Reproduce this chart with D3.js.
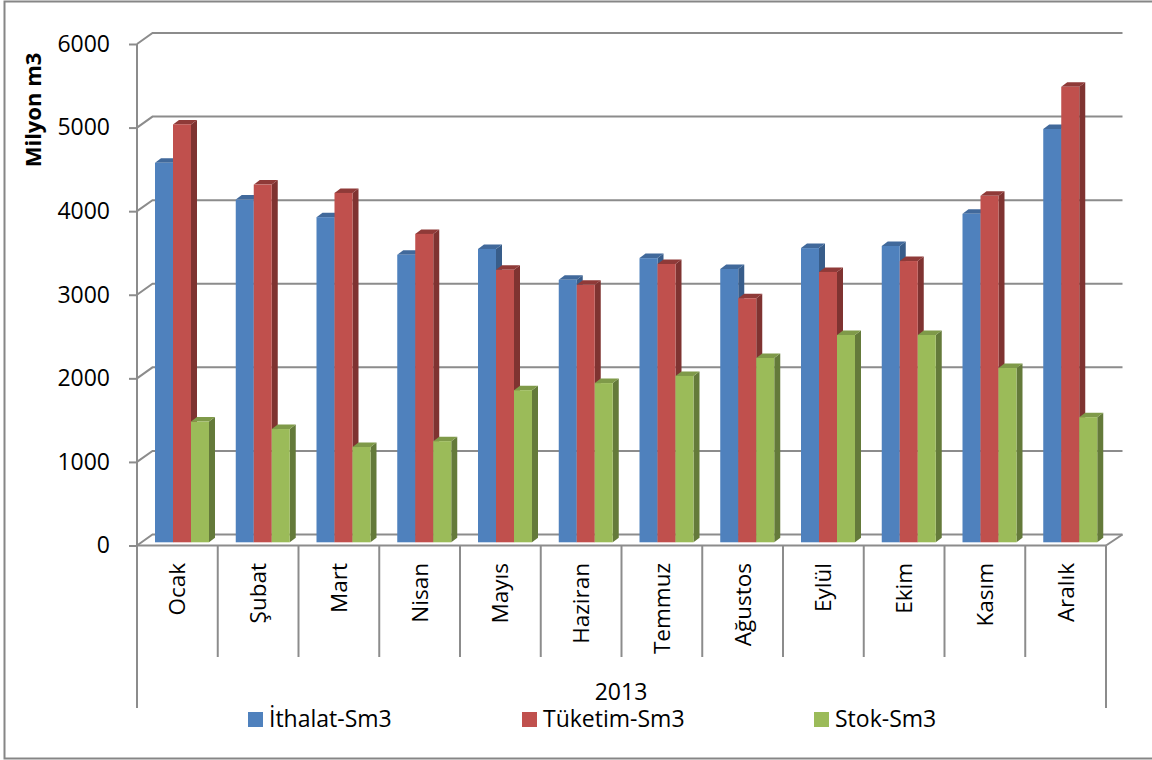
<!DOCTYPE html>
<html><head><meta charset="utf-8">
<script src="https://cdn.jsdelivr.net/npm/d3@7"></script>
<style>html,body{margin:0;padding:0;background:#fff;overflow:hidden}text{font-family:"Open Sans",sans-serif;fill:#000}</style>
</head><body><svg id="c" width="1152" height="760"></svg>
<script>
const months=["Ocak","Şubat","Mart","Nisan","Mayıs","Haziran","Temmuz","Ağustos","Eylül","Ekim","Kasım","Aralık"];
const seriesNames=["İthalat-Sm3","Tüketim-Sm3","Stok-Sm3"];
const ithalat=[4540,4100,3890,3440,3510,3140,3400,3270,3520,3545,3930,4945];
const tuketim=[5000,4280,4180,3690,3260,3080,3330,2920,3235,3365,4145,5450];
const stok=[1445,1355,1140,1210,1820,1905,1990,2205,2480,2480,2085,1497];
const yTicks=[0,1000,2000,3000,4000,5000,6000];
const groupLabel="2013", yTitle="Milyon m3";
const seriesValues=[ithalat,tuketim,stok];
const front=["#4f81bd","#c0504d","#9bbb59"], side=["#385d8a","#7f3331","#647a3a"], topc=["#41699b","#8f3a38","#7f9a49"];
const grid="#8c8c8c";

const svg=d3.select("#c");
const L=137,R=1106,Y0=545.5,Y6=44, DX=15.5,DY=-11;
const x=d3.scaleBand().domain(months).range([L,R]);
const y=d3.scaleLinear().domain([0,6000]).range([Y0,Y6]);
const s=d3.scaleBand().domain([0,1,2]).range([18,72]);
const bdx=6,bdy=-4.5,by=-3.2;

// frame (its right edge lies past the picture)
svg.append("rect").attr("x",4.5).attr("y",1.5).attr("width",1160).attr("height",757).attr("fill","#fff").attr("stroke","#868686").attr("stroke-width",2);

// walls
const wall=svg.append("g").attr("fill","none").attr("stroke",grid).attr("stroke-width",2);
wall.selectAll("path").data(yTicks).join("path")
  .attr("d",v=>`M${L},${y(v)}L${L+DX},${y(v)+DY}L${R+DX+1},${y(v)+DY}`);
wall.append("path").attr("d",`M${R},${Y0}L${R+DX+1},${Y0+DY}`);

// y axis
const ya=svg.append("g").attr("transform",`translate(${L},0)`)
  .call(d3.axisLeft(y).tickValues(yTicks).tickSize(8).tickPadding(19).tickFormat(d3.format("d")));
ya.selectAll("line,path").attr("stroke",grid).attr("stroke-width",2);
ya.selectAll("text").attr("font-size",23).attr("font-family",'"Open Sans"').attr("fill","#000");
ya.select(".domain").attr("d",`M0,${Y6}V${Y0}`);

// x axis
svg.append("path").attr("d",`M${L},${Y0}H${R}`).attr("stroke",grid).attr("stroke-width",2).attr("fill","none");
const seps=svg.append("g").attr("stroke",grid).attr("stroke-width",2);
seps.selectAll("line").data(months.slice(1)).join("line").attr("x1",d=>x(d)).attr("x2",d=>x(d)).attr("y1",Y0).attr("y2",657);
seps.append("line").attr("x1",L).attr("x2",L).attr("y1",Y0).attr("y2",708);
seps.append("line").attr("x1",R).attr("x2",R).attr("y1",Y0).attr("y2",708);

// bars
months.forEach((m,i)=>{
  const g=svg.append("g");
  seriesValues.forEach((vals,k)=>{
    const x0=x(m)+s(k), w=s.bandwidth(), t=y(vals[i])+by, b=y(0)+by;
    g.append("path").attr("fill",side[k]).attr("d",`M${x0+w},${t}L${x0+w+bdx},${t+bdy}V${b+bdy}L${x0+w},${b}Z`);
    g.append("path").attr("fill",topc[k]).attr("d",`M${x0},${t}L${x0+bdx},${t+bdy}H${x0+w+bdx}L${x0+w},${t}Z`);
    g.append("rect").attr("x",x0).attr("y",t).attr("width",w).attr("height",b-t).attr("fill",front[k]);
  });
});

// category labels
svg.append("g").selectAll("text").data(months).join("text")
  .attr("transform",d=>`translate(${x(d)+x.bandwidth()/2+8},563) rotate(-90)`)
  .attr("text-anchor","end").attr("font-size",22.5).text(d=>d);
svg.append("text").attr("x",621).attr("y",700).attr("text-anchor","middle").attr("font-size",23).text(groupLabel);
svg.append("text").attr("transform","translate(41,110) rotate(-90)").attr("text-anchor","middle")
  .attr("font-size",22).attr("font-weight",700).text(yTitle);

// legend
const legX=d3.scaleOrdinal().domain(seriesNames).range([248,522,814]);
const leg=svg.append("g").selectAll("g").data(seriesNames).join("g").attr("transform",d=>`translate(${legX(d)},712)`);
leg.append("rect").attr("width",15).attr("height",15).attr("fill",(d,i)=>front[i]);
leg.append("text").attr("x",21).attr("y",15).attr("font-size",23).text(d=>d);
</script></body></html>
